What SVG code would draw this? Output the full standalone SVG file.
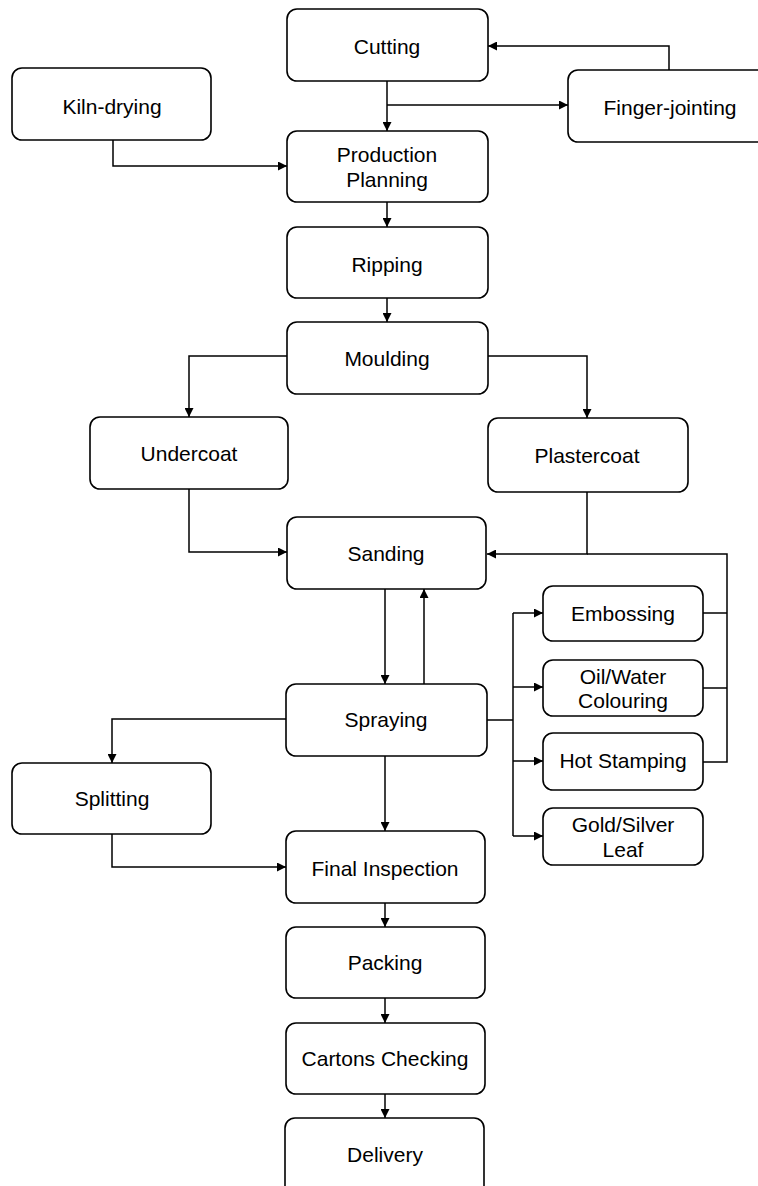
<svg xmlns="http://www.w3.org/2000/svg" width="758" height="1186" viewBox="0 0 758 1186">
<style>
.box{fill:#fff;stroke:#000;stroke-width:1.6}
.t{font-family:"Liberation Sans",Arial,sans-serif;font-size:21px;fill:#000;text-anchor:middle}
.c{fill:none;stroke:#000;stroke-width:1.5}
</style>
<defs>
<marker id="ah" viewBox="0 0 10 10" refX="10" refY="5" markerWidth="10" markerHeight="9" markerUnits="userSpaceOnUse" orient="auto">
<path d="M0,0 L10,5 L0,10 Z" fill="#000"/>
</marker>
</defs>
<rect width="758" height="1186" fill="#fff"/>
<g id="connectors">
<path class="c" d="M387,81 V131" marker-end="url(#ah)"/>
<path class="c" d="M387,105 H568" marker-end="url(#ah)"/>
<path class="c" d="M669,70 V46 H488" marker-end="url(#ah)"/>
<path class="c" d="M113,140 V166 H287" marker-end="url(#ah)"/>
<path class="c" d="M387,202 V227" marker-end="url(#ah)"/>
<path class="c" d="M387,298 V322" marker-end="url(#ah)"/>
<path class="c" d="M287,356 H189 V417" marker-end="url(#ah)"/>
<path class="c" d="M488,356 H587 V418" marker-end="url(#ah)"/>
<path class="c" d="M189,489 V552 H287" marker-end="url(#ah)"/>
<path class="c" d="M587,492 V554 H487" marker-end="url(#ah)"/>
<path class="c" d="M587,554 H727 V762 H703"/>
<path class="c" d="M703,613 H727"/>
<path class="c" d="M703,688 H727"/>
<path class="c" d="M385,589 V684" marker-end="url(#ah)"/>
<path class="c" d="M424,684 V589" marker-end="url(#ah)"/>
<path class="c" d="M286,719 H112 V763" marker-end="url(#ah)"/>
<path class="c" d="M385,756 V831" marker-end="url(#ah)"/>
<path class="c" d="M112,834 V867 H286" marker-end="url(#ah)"/>
<path class="c" d="M487,720 H513"/>
<path class="c" d="M513,613 V836"/>
<path class="c" d="M513,613 H543" marker-end="url(#ah)"/>
<path class="c" d="M513,687 H543" marker-end="url(#ah)"/>
<path class="c" d="M513,761 H543" marker-end="url(#ah)"/>
<path class="c" d="M513,836 H543" marker-end="url(#ah)"/>
<path class="c" d="M385,903 V927" marker-end="url(#ah)"/>
<path class="c" d="M385,998 V1023" marker-end="url(#ah)"/>
<path class="c" d="M385,1094 V1118" marker-end="url(#ah)"/>
</g>
<g id="cutting"><rect class="box" x="287" y="9" width="201" height="72" rx="10"/><text class="t" x="387" y="54">Cutting</text></g>
<g id="kiln-drying"><rect class="box" x="12" y="68" width="199" height="72" rx="10"/><text class="t" x="112" y="114">Kiln-drying</text></g>
<g id="finger-jointing"><rect class="box" x="568" y="70" width="206" height="72" rx="10"/><text class="t" x="670" y="115">Finger-jointing</text></g>
<g id="production-planning"><rect class="box" x="287" y="131" width="201" height="71" rx="10"/><text class="t" x="387" y="162">Production</text><text class="t" x="387" y="187">Planning</text></g>
<g id="ripping"><rect class="box" x="287" y="227" width="201" height="71" rx="10"/><text class="t" x="387" y="272">Ripping</text></g>
<g id="moulding"><rect class="box" x="287" y="322" width="201" height="72" rx="10"/><text class="t" x="387" y="366">Moulding</text></g>
<g id="undercoat"><rect class="box" x="90" y="417" width="198" height="72" rx="10"/><text class="t" x="189" y="461">Undercoat</text></g>
<g id="plastercoat"><rect class="box" x="488" y="418" width="200" height="74" rx="10"/><text class="t" x="587" y="463">Plastercoat</text></g>
<g id="sanding"><rect class="box" x="287" y="517" width="199" height="72" rx="10"/><text class="t" x="386" y="561">Sanding</text></g>
<g id="embossing"><rect class="box" x="543" y="586" width="160" height="55" rx="10"/><text class="t" x="623" y="621">Embossing</text></g>
<g id="oil-water-colouring"><rect class="box" x="543" y="660" width="160" height="56" rx="10"/><text class="t" x="623" y="684">Oil/Water</text><text class="t" x="623" y="708">Colouring</text></g>
<g id="spraying"><rect class="box" x="286" y="684" width="201" height="72" rx="10"/><text class="t" x="386" y="727">Spraying</text></g>
<g id="hot-stamping"><rect class="box" x="543" y="733" width="160" height="57" rx="10"/><text class="t" x="623" y="768">Hot Stamping</text></g>
<g id="splitting"><rect class="box" x="12" y="763" width="199" height="71" rx="10"/><text class="t" x="112" y="806">Splitting</text></g>
<g id="gold-silver-leaf"><rect class="box" x="543" y="808" width="160" height="57" rx="10"/><text class="t" x="623" y="832">Gold/Silver</text><text class="t" x="623" y="857">Leaf</text></g>
<g id="final-inspection"><rect class="box" x="286" y="831" width="199" height="72" rx="10"/><text class="t" x="385" y="876">Final Inspection</text></g>
<g id="packing"><rect class="box" x="286" y="927" width="199" height="71" rx="10"/><text class="t" x="385" y="970">Packing</text></g>
<g id="cartons-checking"><rect class="box" x="286" y="1023" width="199" height="71" rx="10"/><text class="t" x="385" y="1066">Cartons Checking</text></g>
<g id="delivery"><rect class="box" x="285" y="1118" width="199" height="80" rx="10"/><text class="t" x="385" y="1162">Delivery</text></g>
</svg>
